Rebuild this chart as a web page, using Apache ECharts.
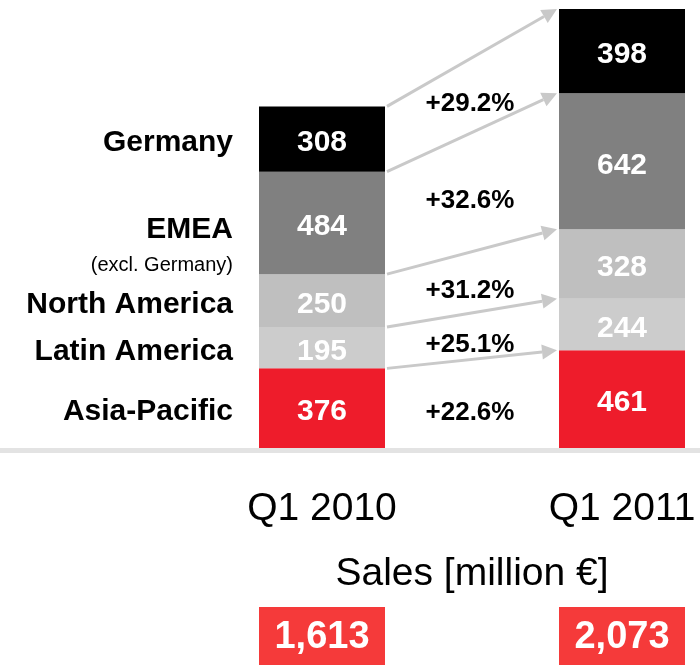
<!DOCTYPE html>
<html>
<head>
<meta charset="utf-8">
<script src="https://cdn.jsdelivr.net/npm/echarts@6/dist/echarts.min.js"></script>
<style>
  html, body { margin: 0; padding: 0; background: #fff; }
  #main { width: 700px; height: 665px; }
</style>
</head>
<body>
<div id="main"></div>
<script>
// data, stacked from bottom to top
const quarters = ['Q1 2010', 'Q1 2011'];
const regions = ['Asia-Pacific', 'Latin America', 'North America', 'EMEA', 'Germany'];
const regionNotes = ['', '', '', '(excl. Germany)', ''];
const sales2010 = [376, 195, 250, 484, 308];
const sales2011 = [461, 244, 328, 642, 398];
const growth = ['+22.6%', '+25.1%', '+31.2%', '+32.6%', '+29.2%'];
const axisTitle = 'Sales [million €]';

const colors = ['#ee1c2b', '#cccccc', '#bfbfbf', '#808080', '#000000'];
const FONT = '"Liberation Sans", Arial, sans-serif';
const BAR_W = 126;
const ARROW = '#c9c9c9';
const DY = 4; // nudge so the cap height sits on the segment centre

const sum = arr => arr.reduce((a, b) => a + b, 0);
const totals = [sum(sales2010), sum(sales2011)];
const fmt = v => v.toLocaleString('en-US');

const myChart = echarts.init(document.getElementById('main'));

// arrows, growth rates and region names
const renderItem = (params, api) => {
  const i = params.dataIndex;
  const b1 = sum(sales2010.slice(0, i)), t1 = b1 + sales2010[i];
  const b2 = sum(sales2011.slice(0, i)), t2 = b2 + sales2011[i];
  const p1 = api.coord([0, t1]), q1 = api.coord([0, b1]);
  const p2 = api.coord([1, t2]), q2 = api.coord([1, b2]);
  const half = BAR_W / 2;
  const sx = p1[0] + half + 2, sy = p1[1];
  const ex = p2[0] - half - 2, ey = p2[1];
  const dx = ex - sx, dy = ey - sy, len = Math.hypot(dx, dy);
  const ux = dx / len, uy = dy / len;
  const head = 15, hw = 7.5;
  const bx = ex - ux * head, by = ey - uy * head;
  const c1 = (p1[1] + q1[1]) / 2, c2 = (p2[1] + q2[1]) / 2;
  const children = [
    { type: 'line', shape: { x1: sx, y1: sy, x2: bx, y2: by },
      style: { stroke: ARROW, lineWidth: 3 } },
    { type: 'polygon',
      shape: { points: [[ex, ey], [bx - uy * hw, by + ux * hw], [bx + uy * hw, by - ux * hw]] },
      style: { fill: ARROW } },
    { type: 'text', x: (p1[0] + p2[0]) / 2 - 2, y: (c1 + c2) / 2 + 5 + DY,
      style: { text: growth[i], fill: '#000', font: 'bold 26px ' + FONT, align: 'center', verticalAlign: 'middle' } }
  ];
  const nx = p1[0] - half - 26;
  if (regionNotes[i]) {
    children.push({ type: 'text', x: nx, y: c1 + 3 + DY,
      style: { text: regions[i], fill: '#000', font: 'bold 30px ' + FONT, align: 'right', verticalAlign: 'middle' } });
    children.push({ type: 'text', x: nx, y: c1 + 39 + DY,
      style: { text: regionNotes[i], fill: '#000', font: '20px ' + FONT, align: 'right', verticalAlign: 'middle' } });
  } else {
    children.push({ type: 'text', x: nx, y: c1 + DY,
      style: { text: regions[i], fill: '#000', font: 'bold 30px ' + FONT, align: 'right', verticalAlign: 'middle' } });
  }
  return { type: 'group', children };
};

const barSeries = regions.map((r, i) => ({
  name: r,
  type: 'bar',
  stack: 'sales',
  barWidth: BAR_W,
  clip: false,
  data: [sales2010[i], sales2011[i]],
  itemStyle: { color: colors[i] },
  label: {
    show: true, position: 'inside', offset: [0, DY],
    color: '#fff', fontSize: 30, fontWeight: 'bold', fontFamily: FONT
  }
}));

myChart.setOption({
  animation: false,
  textStyle: { fontFamily: FONT },
  // bar centres sit on the grid edges
  grid: { left: 322, right: 78, top: 9, bottom: 217 },
  xAxis: [
    {
      type: 'category',
      data: quarters,
      boundaryGap: false,
      axisLine: { show: false },
      axisTick: { show: false },
      axisLabel: { fontSize: 39, color: '#000', margin: 42 },
      name: axisTitle,
      nameLocation: 'middle',
      nameGap: 107,
      nameTextStyle: { fontSize: 39, color: '#000' }
    },
    {
      type: 'category',
      position: 'bottom',
      offset: 159,
      data: quarters,
      boundaryGap: false,
      axisLine: { show: false },
      axisTick: { show: false },
      axisLabel: {
        margin: 0,
        formatter: (v, idx) => fmt(totals[idx]),
        fontSize: 38, fontWeight: 'bold', color: '#fff',
        backgroundColor: '#f53a3a',
        width: BAR_W, height: 58, lineHeight: 62, align: 'center'
      }
    }
  ],
  yAxis: { type: 'value', min: 0, max: Math.max(...totals), show: false },
  graphic: [
    { type: 'rect', x: 0, y: 448, shape: { width: 700, height: 5 }, style: { fill: '#e3e3e3' } }
  ],
  series: [
    ...barSeries,
    {
      type: 'custom',
      renderItem,
      data: regions.map(() => [0, 0]),
      z: 3,
      silent: true
    }
  ]
});
</script>
</body>
</html>
